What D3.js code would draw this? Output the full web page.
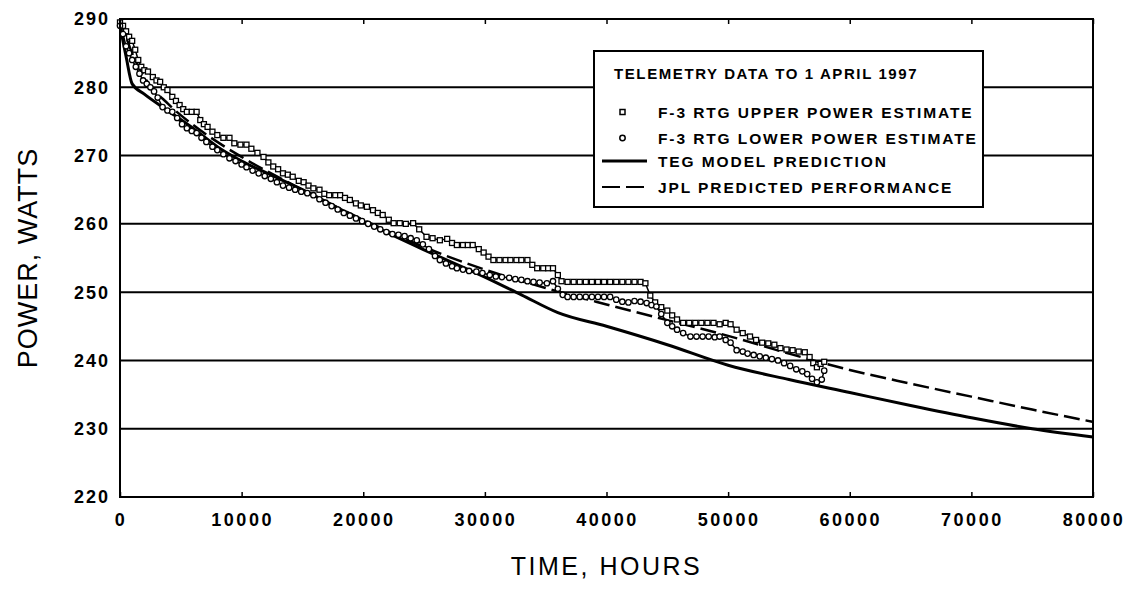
<!DOCTYPE html>
<html>
<head>
<meta charset="utf-8">
<script src="https://cdn.jsdelivr.net/npm/d3@7"></script>
<style>
  html, body { margin: 0; padding: 0; background: #fff; }
  svg { display: block; font-family: 'Liberation Sans', Arial, sans-serif; }
</style>
</head>
<body>
<svg id="chart" width="1129" height="592"></svg>
<script>
// tick labels
var xTicks = [0, 10000, 20000, 30000, 40000, 50000, 60000, 70000, 80000];
var yTicks = [220, 230, 240, 250, 260, 270, 280, 290];

// F-3 RTG upper power estimate (squares)
var upperHours = [0, 250, 500, 750, 1000, 1250, 1500, 1750, 2000, 2300, 2700, 3000, 3300, 3600, 3900, 4300, 4600, 4900, 5200, 5500,
  5900, 6300, 6600, 6900, 7200, 7600, 8000, 8500, 9000, 9400, 9900, 10400, 10800, 11300, 11800, 12200, 12600, 13000, 13400, 13800,
  14200, 14700, 15100, 15500, 15900, 16400, 16800, 17200, 17700, 18100, 18500, 18900, 19400, 19800, 20300, 20800, 21200, 21600, 22100, 22500,
  23000, 23500, 24100, 24600, 25200, 25700, 26300, 26900, 27300, 27700, 28200, 28600, 29000, 29500, 29900, 30300, 30700, 31200, 31700, 32100,
  32600, 33000, 33500, 33900, 34300, 34800, 35200, 35600, 36000, 36300, 36800, 37300, 37800, 38300, 38800, 39300, 39800, 40300, 40800, 41300,
  41800, 42300, 42800, 43200, 43600, 44000, 44500, 45000, 45400, 45800, 46300, 46800, 47300, 47800, 48300, 48800, 49300, 49800, 50200, 50700,
  51200, 51800, 52300, 52800, 53300, 53800, 54300, 54800, 55300, 55800, 56300, 56700, 57000, 57300, 57600, 57900];
var upperWatts = [289.5, 289.0, 288.2, 287.4, 286.8, 285.5, 284.0, 283.0, 282.5, 282.3, 281.5, 281.0, 280.8, 280.0, 279.6, 278.6, 278.0, 277.4, 276.8, 276.4,
  276.4, 276.4, 275.2, 274.6, 274.2, 273.5, 273.0, 272.6, 272.6, 271.8, 271.6, 271.6, 271.0, 270.4, 269.8, 269.0, 268.4, 268.0, 267.4, 267.2,
  266.9, 266.3, 266.1, 265.6, 265.2, 265.0, 264.4, 264.2, 264.2, 264.2, 263.8, 263.5, 263.0, 262.7, 262.5, 262.0, 261.6, 261.3, 260.6, 260.1,
  260.1, 260.0, 260.1, 259.2, 258.1, 257.9, 257.6, 257.8, 257.2, 256.9, 256.9, 256.9, 256.9, 256.3, 255.8, 255.2, 254.7, 254.7, 254.7, 254.7,
  254.7, 254.7, 254.7, 254.0, 253.5, 253.5, 253.5, 253.5, 252.5, 251.6, 251.5, 251.5, 251.5, 251.5, 251.5, 251.5, 251.5, 251.5, 251.5, 251.5,
  251.5, 251.5, 251.5, 251.3, 249.5, 248.5, 247.8, 247.3, 246.6, 246.0, 245.5, 245.5, 245.5, 245.5, 245.5, 245.5, 245.3, 245.5, 245.3, 244.5,
  244.0, 243.5, 243.0, 242.6, 242.5, 242.3, 241.8, 241.6, 241.5, 241.3, 241.2, 240.5, 239.6, 239.0, 239.5, 239.8];

// F-3 RTG lower power estimate (circles)
var lowerHours = [0, 250, 500, 750, 1000, 1300, 1600, 1900, 2200, 2500, 2800, 3100, 3500, 3900, 4300, 4700, 5100, 5500, 5900, 6300,
  6700, 7100, 7600, 8000, 8500, 9000, 9500, 10000, 10400, 10900, 11400, 11900, 12400, 12900, 13400, 13900, 14400, 14900, 15400, 15900,
  16400, 16900, 17400, 17900, 18400, 18900, 19400, 19900, 20400, 20900, 21400, 21900, 22400, 22900, 23400, 23900, 24400, 24900, 25400, 25900,
  26300, 26800, 27300, 27700, 28200, 28700, 29300, 29800, 30400, 30900, 31400, 32000, 32500, 33000, 33500, 34000, 34500, 35100, 35600, 36000,
  36400, 36800, 37300, 37800, 38300, 38800, 39300, 39800, 40300, 40800, 41300, 41800, 42300, 42800, 43300, 43700, 44100, 44500, 45000, 45400,
  45800, 46300, 46900, 47400, 47900, 48400, 48900, 49300, 49800, 50200, 50700, 51200, 51600, 52100, 52600, 53100, 53600, 54100, 54600, 55100,
  55600, 56100, 56500, 56900, 57300, 57700, 57900];
var lowerWatts = [289.0, 287.8, 286.0, 285.0, 284.0, 283.0, 282.0, 281.0, 280.5, 280.0, 279.4, 278.5, 277.1, 276.6, 276.4, 275.5, 274.6, 274.0, 273.6, 273.3,
  272.6, 272.0, 271.3, 270.8, 270.2, 269.6, 269.2, 268.7, 268.3, 267.8, 267.4, 267.0, 266.6, 266.1, 265.6, 265.3, 265.0, 264.7, 264.5, 264.2,
  263.6, 263.1, 262.6, 262.1, 261.6, 261.2, 260.8, 260.4, 260.0, 259.6, 259.2, 258.8, 258.5, 258.4, 258.2, 257.9, 257.6, 257.0, 256.3, 255.3,
  254.7, 254.2, 253.8, 253.5, 253.3, 253.1, 253.0, 252.8, 252.5, 252.3, 252.2, 252.1, 251.9, 251.8, 251.6, 251.5, 251.4, 251.3, 251.6, 250.5,
  249.6, 249.3, 249.3, 249.3, 249.3, 249.3, 249.3, 249.3, 249.3, 248.9, 248.6, 248.5, 248.7, 248.6, 248.4, 248.1, 247.9, 246.8, 245.5, 245.0,
  244.5, 244.0, 243.5, 243.5, 243.5, 243.5, 243.4, 243.5, 243.0, 242.6, 241.5, 241.3, 241.0, 240.8, 240.6, 240.4, 240.2, 240.0, 239.6, 239.2,
  238.7, 238.4, 238.0, 237.3, 236.8, 237.2, 238.5];

// TEG model prediction (solid)
var modelHours = [0, 500, 1000, 2000, 4000, 6000, 8000, 10000, 12000, 15000, 20000, 25000, 30000, 33000, 36000, 40000, 45000, 50000, 55000, 60000, 65000, 70000, 75000, 80000];
var modelWatts = [289.0, 284.5, 280.5, 279.0, 276.5, 274.0, 271.3, 269.2, 267.5, 265.0, 260.4, 256.2, 252.2, 249.6, 247.0, 245.0, 242.3, 239.3, 237.2, 235.3, 233.4, 231.6, 230.0, 228.8];

// JPL predicted performance (dashed)
var jplHours = [0, 1000, 2000, 4000, 6000, 8000, 10000, 15000, 20000, 25000, 30000, 35000, 40000, 45000, 50000, 55000, 60000, 65000, 70000, 75000, 80000];
var jplWatts = [290.0, 285.0, 281.5, 277.5, 274.5, 272.0, 269.8, 265.0, 260.6, 256.6, 253.3, 250.6, 248.2, 245.9, 243.6, 241.0, 238.6, 236.6, 234.7, 232.8, 231.0];

var legendTitle = 'TELEMETRY DATA TO 1 APRIL 1997';
var legendLabels = ['F-3 RTG UPPER POWER ESTIMATE', 'F-3 RTG LOWER POWER ESTIMATE', 'TEG MODEL PREDICTION', 'JPL PREDICTED PERFORMANCE'];

function powerChart(id) {

  (function init() {
    draw(id);
  })();

  function zip(hours, watts) {
    return hours.map(function (h, i) { return { t: h, w: watts[i] }; });
  }

  function draw(id) {

    var svg = d3.select('#' + id),
        margin = { top: 19, right: 36, bottom: 95, left: 120 },
        width = +svg.attr('width') - margin.left - margin.right,
        height = +svg.attr('height') - margin.top - margin.bottom,
        g = svg.append('g').attr('transform', 'translate(' + margin.left + ',' + margin.top + ')');

    var x = d3.scaleLinear().domain([0, 80000]).range([0, width]);
    var y = d3.scaleLinear().domain([220, 290]).range([height, 0]);

    // horizontal grid
    g.append('g')
      .selectAll('line')
      .data(yTicks)
      .enter().append('line')
        .attr('x1', 0)
        .attr('x2', width)
        .attr('y1', function (d) { return y(d); })
        .attr('y2', function (d) { return y(d); })
        .attr('stroke', '#000')
        .attr('stroke-width', 2);

    var line = d3.line()
        .x(function (d) { return x(d.t); })
        .y(function (d) { return y(d.w); });

    var smooth = d3.line()
        .x(function (d) { return x(d.t); })
        .y(function (d) { return y(d.w); })
        .curve(d3.curveMonotoneX);

    // data traces
    g.append('path')
        .datum(zip(upperHours, upperWatts))
        .attr('fill', 'none')
        .attr('stroke', '#000')
        .attr('stroke-width', 1.5)
        .attr('d', line);

    g.append('path')
        .datum(zip(lowerHours, lowerWatts))
        .attr('fill', 'none')
        .attr('stroke', '#000')
        .attr('stroke-width', 1.5)
        .attr('d', line);

    g.append('path')
        .datum(zip(jplHours, jplWatts))
        .attr('fill', 'none')
        .attr('stroke', '#000')
        .attr('stroke-width', 2.5)
        .attr('stroke-dasharray', '16,6')
        .attr('d', smooth);

    g.append('path')
        .datum(zip(modelHours, modelWatts))
        .attr('fill', 'none')
        .attr('stroke', '#000')
        .attr('stroke-width', 3)
        .attr('d', smooth);

    g.append('g')
      .selectAll('rect')
      .data(zip(upperHours, upperWatts))
      .enter().append('rect')
        .attr('x', function (d) { return x(d.t) - 2.5; })
        .attr('y', function (d) { return y(d.w) - 2.5; })
        .attr('width', 5)
        .attr('height', 5)
        .attr('fill', '#fff')
        .attr('stroke', '#000')
        .attr('stroke-width', 1.3);

    g.append('g')
      .selectAll('circle')
      .data(zip(lowerHours, lowerWatts))
      .enter().append('circle')
        .attr('cx', function (d) { return x(d.t); })
        .attr('cy', function (d) { return y(d.w); })
        .attr('r', 2.7)
        .attr('fill', '#fff')
        .attr('stroke', '#000')
        .attr('stroke-width', 1.3);

    // plot frame
    g.append('rect')
        .attr('width', width)
        .attr('height', height)
        .attr('fill', 'none')
        .attr('stroke', '#000')
        .attr('stroke-width', 2);

    // tick marks top and bottom, pointing in
    g.append('g')
        .attr('transform', 'translate(0,' + height + ')')
        .call(d3.axisBottom(x).tickValues(xTicks).tickSize(-5).tickFormat(''))
        .call(function (a) { a.select('.domain').remove(); a.selectAll('line').attr('stroke-width', 1.5); });

    g.append('g')
        .call(d3.axisTop(x).tickValues(xTicks).tickSize(-5).tickFormat(''))
        .call(function (a) { a.select('.domain').remove(); a.selectAll('line').attr('stroke-width', 1.5); });

    // tick labels
    g.append('g')
        .attr('font-size', 18)
        .attr('font-weight', 'bold')
        .attr('letter-spacing', '2.5px')
        .attr('text-anchor', 'middle')
      .selectAll('text')
      .data(xTicks)
      .enter().append('text')
        .attr('x', function (d) { return x(d) + 1; })
        .attr('y', height + 29)
        .text(function (d) { return d; });

    g.append('g')
        .attr('font-size', 18)
        .attr('font-weight', 'bold')
        .attr('letter-spacing', '2px')
        .attr('text-anchor', 'end')
      .selectAll('text')
      .data(yTicks)
      .enter().append('text')
        .attr('x', -10)
        .attr('y', function (d) { return y(d); })
        .attr('dy', '0.36em')
        .text(function (d) { return d; });

    // axis titles
    svg.append('text')
        .attr('x', margin.left + width / 2)
        .attr('y', 575)
        .attr('text-anchor', 'middle')
        .attr('font-size', 25)
        .attr('letter-spacing', '2.5px')
        .text('TIME, HOURS');

    svg.append('text')
        .attr('transform', 'translate(37,' + (margin.top + height / 2) + ') rotate(-90)')
        .attr('text-anchor', 'middle')
        .attr('font-size', 27)
        .attr('letter-spacing', '1px')
        .text('POWER, WATTS');

    // legend
    var legend = svg.append('g')
        .attr('transform', 'translate(594,51)');

    legend.append('rect')
        .attr('width', 389)
        .attr('height', 156)
        .attr('fill', '#fff')
        .attr('stroke', '#000')
        .attr('stroke-width', 2);

    legend.append('text')
        .attr('x', 20)
        .attr('y', 28)
        .attr('font-size', 15)
        .attr('font-weight', 'bold')
        .attr('letter-spacing', '1.6px')
        .text(legendTitle);

    var rowY = [61, 87, 110, 136];

    var item = legend.selectAll('g.item')
      .data(legendLabels)
      .enter().append('g')
        .attr('class', 'item')
        .attr('transform', function (d, i) { return 'translate(0,' + rowY[i] + ')'; });

    item.append('text')
        .attr('x', 64)
        .attr('dy', '0.36em')
        .attr('font-size', 15.5)
        .attr('font-weight', 'bold')
        .attr('letter-spacing', '1.9px')
        .text(function (d) { return d; });

    legend.append('rect')
        .attr('x', 26)
        .attr('y', rowY[0] - 2.5)
        .attr('width', 5)
        .attr('height', 5)
        .attr('fill', '#fff')
        .attr('stroke', '#000')
        .attr('stroke-width', 1.5);

    legend.append('circle')
        .attr('cx', 28.5)
        .attr('cy', rowY[1])
        .attr('r', 2.7)
        .attr('fill', '#fff')
        .attr('stroke', '#000')
        .attr('stroke-width', 1.5);

    legend.append('line')
        .attr('x1', 8)
        .attr('x2', 53)
        .attr('y1', rowY[2])
        .attr('y2', rowY[2])
        .attr('stroke', '#000')
        .attr('stroke-width', 3);

    legend.append('line')
        .attr('x1', 8)
        .attr('x2', 51)
        .attr('y1', rowY[3])
        .attr('y2', rowY[3])
        .attr('stroke', '#000')
        .attr('stroke-width', 2)
        .attr('stroke-dasharray', '18,6');
  }
}

powerChart('chart');
</script>
</body>
</html>
